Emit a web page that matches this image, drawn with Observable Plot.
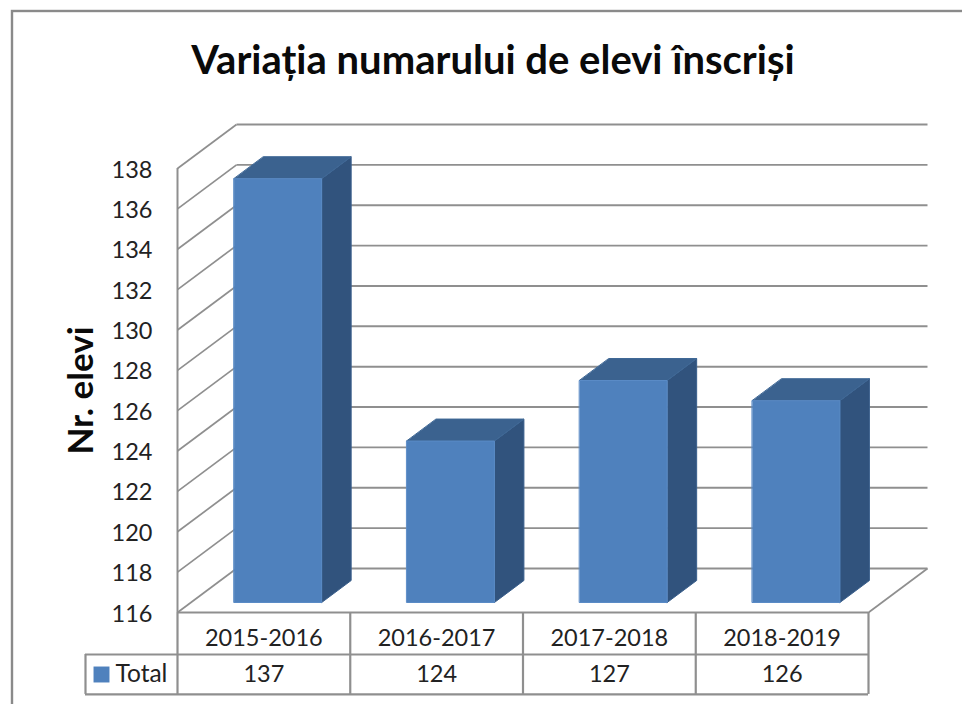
<!DOCTYPE html>
<html lang="ro">
<head>
<meta charset="utf-8">
<style>html,body{margin:0;padding:0;background:#fff;overflow:hidden}svg{display:block}</style>
<script src="https://cdn.jsdelivr.net/npm/d3@7"></script>
<script src="https://cdn.jsdelivr.net/npm/@observablehq/plot@0.6"></script>
</head>
<body>
<script>
const categories = ["2015-2016", "2016-2017", "2017-2018", "2018-2019"];
const totals = [137, 124, 127, 126];
const yTicks = [116, 118, 120, 122, 124, 126, 128, 130, 132, 134, 136, 138];
const titleText = "Variația numarului de elevi înscriși";
const yLabel = "Nr. elevi";
const seriesName = "Total";

const font = "Lato, 'Open Sans', sans-serif";
const gridColor = "#8f8f8f";
const depthX = 0.3415, depthY = 2.18;          // oblique projection of the floor, in scale units
const barStart = 0.25, barWidth = 0.507;
const barFront = 0.227, barDepth = 0.5;
const yMin = 116;
const row1 = 113.92, row2 = 111.94, legendCol = -0.5326;

const px = (x, d) => x + d * depthX;
const py = (v, d) => v + d * depthY;
const poly = (id, pts) => pts.map(([x, y]) => ({id, x, y}));

const front = [], side = [], top_ = [];
totals.forEach((v, i) => {
  const x0 = i + barStart, x1 = x0 + barWidth, a = barFront, b = barFront + barDepth;
  front.push(...poly(i, [[px(x0,a),py(yMin,a)],[px(x1,a),py(yMin,a)],[px(x1,a),py(v,a)],[px(x0,a),py(v,a)]]));
  side.push(...poly(i, [[px(x1,a),py(yMin,a)],[px(x1,b),py(yMin,b)],[px(x1,b),py(v,b)],[px(x1,a),py(v,a)]]));
  top_.push(...poly(i, [[px(x0,a),py(v,a)],[px(x1,a),py(v,a)],[px(x1,b),py(v,b)],[px(x0,b),py(v,b)]]));
});
const face = (data, fill, stroke) => Plot.line(data, {x:"x", y:"y", z:"id", curve:"linear-closed", fill, stroke, strokeWidth:1});
const colEdges = d3.range(categories.length + 1);
const nCols = categories.length;

const chart = Plot.plot({
  width: 962, height: 704,
  marginLeft: 177, marginRight: 94, marginTop: 168, marginBottom: 92,
  x: {domain: [0, nCols], axis: null},
  y: {domain: [yMin, 138]},
  style: {background: "#fff", fontFamily: font},
  marks: [
    Plot.frame({stroke:"#8a8a8a", strokeWidth:2.4, insetLeft:-165.5, insetTop:-157.5, insetRight:-120, insetBottom:-120}),
    // back wall grid + side wall diagonals
    Plot.link(yTicks, {x1:px(0,1), x2:px(nCols,1), y1:d=>py(d,1), y2:d=>py(d,1), stroke:gridColor, strokeWidth:1.9}),
    Plot.link(yTicks, {x1:0, x2:px(0,1), y1:d=>d, y2:d=>py(d,1), stroke:gridColor, strokeWidth:1.7}),
    Plot.ruleX([0], {y1:yMin, y2:138, stroke:gridColor, strokeWidth:2}),
    // floor
    Plot.link([yMin], {x1:nCols, x2:px(nCols,1), y1:d=>d, y2:d=>py(d,1), stroke:gridColor, strokeWidth:1.7}),
    // bars
    face(side, "#31537d", "#3a5f8c"),
    face(top_, "#3b628f", "#3f6896"),
    face(front, "#4f81bd", "#5a8bc6"),
    // data table
    Plot.ruleY([yMin], {x1:0, x2:nCols, stroke:gridColor, strokeWidth:2.2}),
    Plot.ruleY([row1, row2], {x1:legendCol, x2:nCols, stroke:gridColor, strokeWidth:2.2}),
    Plot.ruleX(colEdges, {y1:yMin, y2:row2, stroke:gridColor, strokeWidth:2.2}),
    Plot.ruleX([legendCol], {y1:row1, y2:row2, stroke:gridColor, strokeWidth:2.2}),
    Plot.axisY(yTicks, {anchor:"left", tickSize:0, tickPadding:25, label:null, fontSize:23.5, fontWeight:400, fill:"#222", dy:1.5}),
    Plot.text(categories, {x:(d,i)=>i+0.5, y:yMin, dy:26, text:d=>d, fontSize:23.5, fill:"#222"}),
    Plot.text(totals, {x:(d,i)=>i+0.5, y:yMin, dy:62, text:d=>String(d), fontSize:23.5, fill:"#222"}),
    // legend key inside the table
    Plot.dot([seriesName], {x:0, y:yMin, dx:-76, dy:62, symbol:"square", r:9, fill:"#4f81bd", stroke:"none"}),
    Plot.text([seriesName], {x:0, y:yMin, dx:-62, dy:62, text:d=>d, textAnchor:"start", fontSize:24.5, fill:"#222"}),
    // titles
    Plot.text([titleText], {frameAnchor:"top", dx:-30, dy:-123, text:d=>d, fontSize:40, fontWeight:700, fill:"#0a0a0a"}),
    Plot.text([yLabel], {frameAnchor:"left", y:127, dx:-96, text:d=>d, textAnchor:"middle", rotate:-90, fontSize:35, fontWeight:700, fill:"#0a0a0a"})
  ]
});
document.body.appendChild(chart);
</script>
</body>
</html>
